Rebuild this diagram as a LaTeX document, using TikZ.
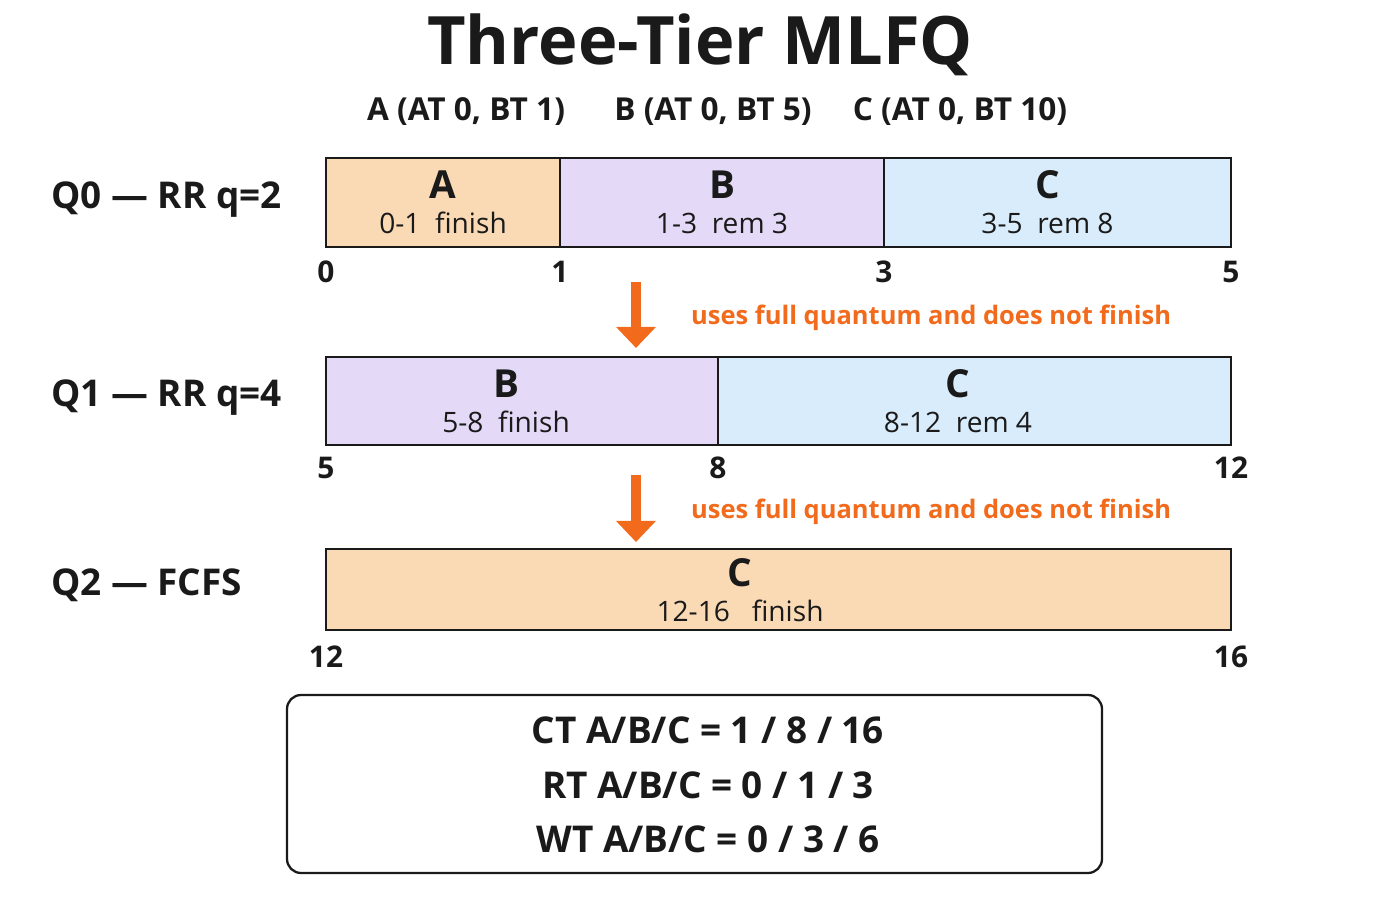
\documentclass[tikz,border=0pt]{standalone}
\usepackage{fontspec}
\setmainfont{Open Sans}
\usetikzlibrary{arrows.meta}
\definecolor{slotorange}{HTML}{FAD9B5}
\definecolor{slotpurple}{HTML}{E4D9F7}
\definecolor{slotblue}{HTML}{D9ECFB}
\definecolor{hotorange}{HTML}{F26B1D}
\definecolor{ink}{HTML}{1A1A1A}
\newcommand{\slotname}[1]{{\fontsize{22}{24}\selectfont\bfseries #1}}

\begin{document}
\begin{tikzpicture}[
  slot/.style={draw=ink, line width=1.3pt},
  slottext/.style={align=center, font=\fontsize{16}{20}\selectfont, text=ink},
  tick/.style={font=\fontsize{17}{20}\selectfont\bfseries, text=ink},
  rowlabel/.style={anchor=west, font=\fontsize{21}{26}\selectfont\bfseries, text=ink},
  demote/.style={-{Triangle[length=12pt,width=22pt]}, line width=6pt, draw=hotorange},
  note/.style={anchor=west, font=\fontsize{14.5}{18}\selectfont\bfseries, text=hotorange}]
  \useasboundingbox (0,0) rectangle (28,18);
  % title and process list
  \node[font=\fontsize{38}{44}\selectfont\bfseries, text=ink] (title) at (14,17.1) {Three-Tier MLFQ};
  \node[font=\fontsize{18}{22}\selectfont\bfseries, text=ink] (pa) at (9.32,15.76) {A (AT 0, BT 1)};
  \node[font=\fontsize{18}{22}\selectfont\bfseries, text=ink] (pb) at (14.26,15.76) {B (AT 0, BT 5)};
  \node[font=\fontsize{18}{22}\selectfont\bfseries, text=ink] (pc) at (19.2,15.76) {C (AT 0, BT 10)};
  % Q0
  \node[rowlabel] (q0) at (0.9,14.0) {Q0 --- RR q=2};
  \draw[slot, fill=slotorange] (6.52,13.06) rectangle (11.2,14.84);
  \draw[slot, fill=slotpurple] (11.2,13.06) rectangle (17.68,14.84);
  \draw[slot, fill=slotblue] (17.68,13.06) rectangle (24.62,14.84);
  \node[slottext] (q0a) at (8.86,13.95) {\slotname{A}\\0-1\ \ finish};
  \node[slottext] (q0b) at (14.44,13.95) {\slotname{B}\\1-3\ \ rem 3};
  \node[slottext] (q0c) at (20.95,13.95) {\slotname{C}\\3-5\ \ rem 8};
  \foreach \x/\t in {6.52/0, 11.2/1, 17.68/3, 24.62/5}
    \node[tick] at (\x,12.56) {\t};
  % demotion 1
  \coordinate (d0) at (12.72,12.36);
  \coordinate (d1) at (12.72,11.04);
  \draw[demote] (d0) -- (d1);
  \node[note] (n1) at (13.7,11.64) {uses full quantum and does not finish};
  % Q1
  \node[rowlabel] (q1) at (0.9,10.04) {Q1 --- RR q=4};
  \draw[slot, fill=slotpurple] (6.52,9.1) rectangle (14.36,10.86);
  \draw[slot, fill=slotblue] (14.36,9.1) rectangle (24.62,10.86);
  \node[slottext] (q1b) at (10.12,9.98) {\slotname{B}\\5-8\ \ finish};
  \node[slottext] (q1c) at (19.16,9.98) {\slotname{C}\\8-12\ \ rem 4};
  \foreach \x/\t in {6.52/5, 14.36/8, 24.62/12}
    \node[tick] at (\x,8.64) {\t};
  % demotion 2
  \coordinate (e0) at (12.72,8.5);
  \coordinate (e1) at (12.72,7.16);
  \draw[demote] (e0) -- (e1);
  \node[note] (n2) at (13.7,7.76) {uses full quantum and does not finish};
  % Q2
  \node[rowlabel] (q2) at (0.9,6.3) {Q2 --- FCFS};
  \draw[slot, fill=slotorange] (6.52,5.4) rectangle (24.62,7.02);
  \node[slottext] (q2c) at (14.8,6.2) {\slotname{C}\\12-16\ \ \ finish};
  \foreach \x/\t in {6.52/12, 24.62/16}
    \node[tick] at (\x,4.86) {\t};
  % summary
  \draw[draw=ink, line width=1.3pt, rounded corners=8pt] (5.74,0.54) rectangle (22.04,4.1);
  \node[align=center, font=\fontsize{21}{31}\selectfont\bfseries, text=ink] (sum) at (14.16,2.3)
    {CT A/B/C = 1 / 8 / 16\\RT A/B/C = 0 / 1 / 3\\WT A/B/C = 0 / 3 / 6};
\end{tikzpicture}
\end{document}
